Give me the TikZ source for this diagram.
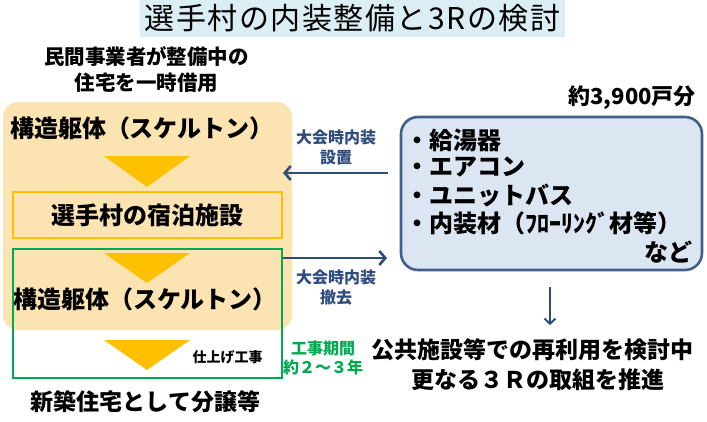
\documentclass[tikz,border=0pt]{standalone}
\usepackage{fontspec}
\setmainfont{Noto Sans CJK JP}
\usetikzlibrary{arrows.meta}
\definecolor{titlebg}{RGB}{218,238,243}
\definecolor{beige}{RGB}{252,228,178}
\definecolor{orangec}{RGB}{255,192,0}
\definecolor{greenc}{RGB}{0,170,80}
\definecolor{bluefill}{RGB}{220,230,242}
\definecolor{blueline}{RGB}{65,95,140}
\definecolor{arrowc}{RGB}{46,76,126}
\begin{document}
\begin{tikzpicture}[x=1pt,y=-1pt,
  every node/.style={inner sep=0pt, font=\bfseries},
  big/.style={font=\bfseries\fontsize{24}{28}\selectfont},
  bot/.style={font=\bfseries\fontsize{23}{28}\selectfont},
  lbl/.style={font=\bfseries\fontsize{16}{20}\selectfont, text=arrowc, align=center},
  arr/.style={draw=arrowc, line width=2.6pt, -{Straight Barb[length=6pt,width=14pt]}},
  tri/.style={fill=orangec}]
\useasboundingbox (0,0) rectangle (707,421);
% title
\node[fill=titlebg, minimum width=425pt, minimum height=37pt,
  font=\fontsize{30}{34}\selectfont\addfontfeature{LetterSpace=5}] (title) at (352.5,18.5) {選手村の内装整備と3Rの検討};
\node[align=center, font=\bfseries\fontsize{20.5}{26}\selectfont] (top) at (146.5,70) {民間事業者が整備中の\\住宅を一時借用};
% beige panel
\fill[beige, rounded corners=15pt] (3,102) rectangle (292,330);
\node[big] (s1) at (142,128) {構造躯体（スケルトン）};
\fill[tri] (104,156) -- (190,156) -- (147,187) -- cycle;
\node[big, draw=orangec, line width=2.6pt, minimum width=269pt, minimum height=46pt] (b2) at (147.5,215) {選手村の宿泊施設};
\draw[greenc, line width=2.6pt] (13,249) rectangle (282,378);
\fill[tri] (104,253) -- (190,253) -- (147,283) -- cycle;
\node[big] (s2) at (145,299) {構造躯体（スケルトン）};
\fill[tri] (104,340) -- (190,340) -- (147,370) -- cycle;
\node[font=\bfseries\fontsize{14}{16}\selectfont] (fin) at (227.5,357) {仕上げ工事};
\node[align=center, text=greenc, font=\bfseries\fontsize{16}{19}\selectfont] (period) at (323,357.5) {工事期間\\約２～３年};
\node[bot] (sale) at (145.5,402) {新築住宅として分譲等};
% arrows
\node[lbl] (l1) at (336,147) {大会時内装\\設置};
\node[lbl] (l2) at (336,287) {大会時内装\\撤去};
% blue box
\node[draw=blueline, fill=bluefill, line width=2.6pt, rounded corners=17pt,
  minimum width=301pt, minimum height=153pt] (bb) at (551.5,193.5) {};
\coordinate (a1s) at (388,173);
\coordinate (a1e) at (283,173);
\coordinate (a2s) at (283,258);
\coordinate (a2e) at (387,258);
\draw[arr] (a1s) -- (a1e);
\draw[arr] (a2s) -- (a2e);
\node[font=\bfseries\fontsize{22}{26}\selectfont, anchor=east] (cnt) at (696,98) {約3,900戸分};
\node[big, anchor=west] (i1) at (405.5,140) {・給湯器};
\node[big, anchor=west] (i2) at (405.5,167) {・エアコン};
\node[big, anchor=west] (i3) at (405.5,195) {・ユニットバス};
\node[big, anchor=west] (i4) at (405.5,223) {・内装材（ﾌﾛｰﾘﾝｸﾞ材等）};
\node[big, anchor=east] (i5) at (693,252) {など};
% bottom right
\node[bot] (r1) at (532.5,350) {公共施設等での再利用を検討中};
\node[bot] (r2) at (538,380) {更なる３Ｒの取組を推進};
\coordinate (dA) at (550,287);
\coordinate (dB) at (550,325);
\draw[draw=arrowc, line width=2pt, -{Straight Barb[length=5pt,width=11pt]}] (dA) -- (dB);
\end{tikzpicture}
\end{document}
